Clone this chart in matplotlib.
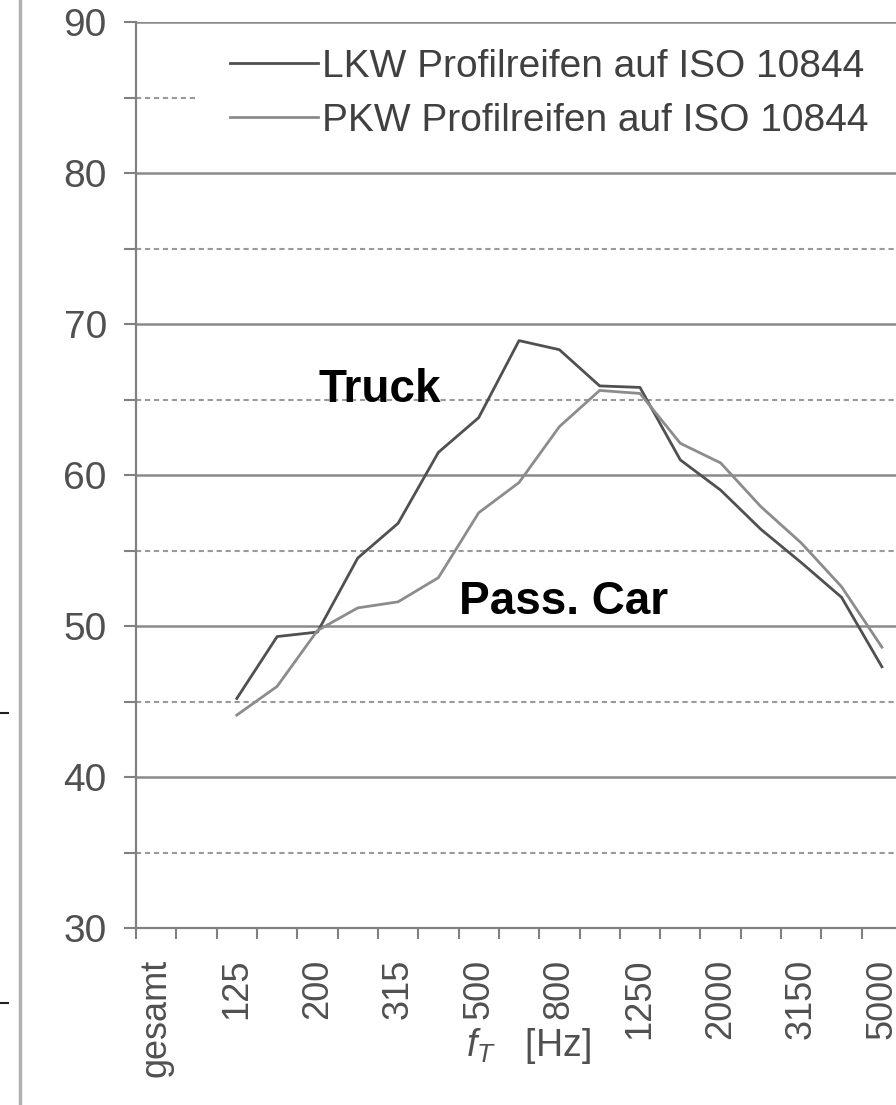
import numpy as np
import matplotlib.pyplot as plt
from matplotlib.lines import Line2D
from matplotlib.patches import Rectangle
from matplotlib.ticker import MultipleLocator, FixedLocator

plt.rcParams['font.family'] = ['Liberation Sans', 'DejaVu Sans']
plt.rcParams['mathtext.fontset'] = 'custom'
plt.rcParams['mathtext.it'] = 'Liberation Sans:italic'
plt.rcParams['mathtext.rm'] = 'Liberation Sans'

# third-octave band centre frequencies (Hz), first entry = overall level
freqs = ['gesamt', '100', '125', '160', '200', '250', '315', '400', '500', '630',
         '800', '1000', '1250', '1600', '2000', '2500', '3150', '4000', '5000']
# levels from 125 Hz upwards
truck = [45.2, 49.3, 49.6, 54.5, 56.8, 61.5, 63.8, 68.9, 68.3, 65.9,
         65.8, 61.0, 59.0, 56.4, 54.2, 51.9, 47.3]
car = [44.1, 46.0, 49.7, 51.2, 51.6, 53.2, 57.5, 59.5, 63.2, 65.6,
       65.4, 62.1, 60.8, 57.9, 55.5, 52.6, 48.6]
legend_labels = ['LKW Profilreifen auf ISO 10844', 'PKW Profilreifen auf ISO 10844']

W, H = 896, 1105
fig = plt.figure(figsize=(W / 100, H / 100), dpi=100)
ax = fig.add_axes([136 / W, 1 - 928 / H, 1 - 136 / W, (928 - 22) / H])

x = np.arange(2, 2 + len(truck))
ax.plot(x, truck, color='#505050', lw=2.0, zorder=3, label=legend_labels[0])
ax.plot(x, car, color='#8c8c8c', lw=2.0, zorder=3, label=legend_labels[1])

ax.set_xlim(-0.5, 18.35)
ax.set_ylim(30, 90)

ax.yaxis.set_major_locator(MultipleLocator(10))
ax.yaxis.set_minor_locator(MultipleLocator(5))
ax.grid(True, which='major', axis='y', color='#8a8a8a', lw=1.8, zorder=1)
ax.grid(True, which='minor', axis='y', color='#9a9a9a', lw=1.5,
        linestyle=(0, (2.5, 1.8)), zorder=1)

ax.set_xticks(np.arange(0, len(freqs), 2))
ax.set_xticklabels(freqs[::2], rotation=90)
ax.xaxis.set_minor_locator(FixedLocator(np.arange(-0.5, len(freqs), 1)))
ax.tick_params(axis='x', which='major', length=0, pad=22, labelsize=26, labelcolor='#505050')
ax.tick_params(axis='x', which='minor', length=8, width=1.5, color='#808080')
ax.tick_params(axis='y', which='both', length=9, width=1.5, color='#808080',
               labelsize=28, labelcolor='#505050', pad=12)

for s in ['top', 'right']:
    ax.spines[s].set_visible(False)
for s in ['left', 'bottom']:
    ax.spines[s].set_color('#808080')
    ax.spines[s].set_linewidth(1.6)

ax.text(5.55, 65.6, 'Truck', fontsize=33, fontweight='bold', ha='center', va='center', zorder=4)
ax.text(10.1, 51.6, 'Pass. Car', fontsize=33, fontweight='bold', ha='center', va='center', zorder=4)

# white background behind the legend
ax.add_patch(Rectangle((0.078, 0.868), 0.93, 0.123, transform=ax.transAxes,
                       facecolor='white', edgecolor='none', zorder=2))
leg = ax.legend(loc='upper left', bbox_to_anchor=(0.1237, 0.9705), fontsize=28,
                handlelength=2.25, handletextpad=0.12, labelspacing=0.47,
                frameon=False, borderpad=0, borderaxespad=0)
leg.set_zorder(5)
for t in leg.get_texts():
    t.set_color('#404040')

fig.text(528 / W, 1 - 1046 / H, r'$f_T$   [Hz]', fontsize=27, color='#505050',
         ha='center', va='center')

# scan border on the left
fig.add_artist(Line2D([20 / W, 20 / W], [0, 1], color='#b0b0b0', lw=2.5))
fig.add_artist(Line2D([0, 8 / W], [1 - 713 / H, 1 - 713 / H], color='#222222', lw=1.5))
fig.add_artist(Line2D([0, 8 / W], [1 - 1003 / H, 1 - 1003 / H], color='#222222', lw=1.5))

fig.savefig('out.png', dpi=100)
